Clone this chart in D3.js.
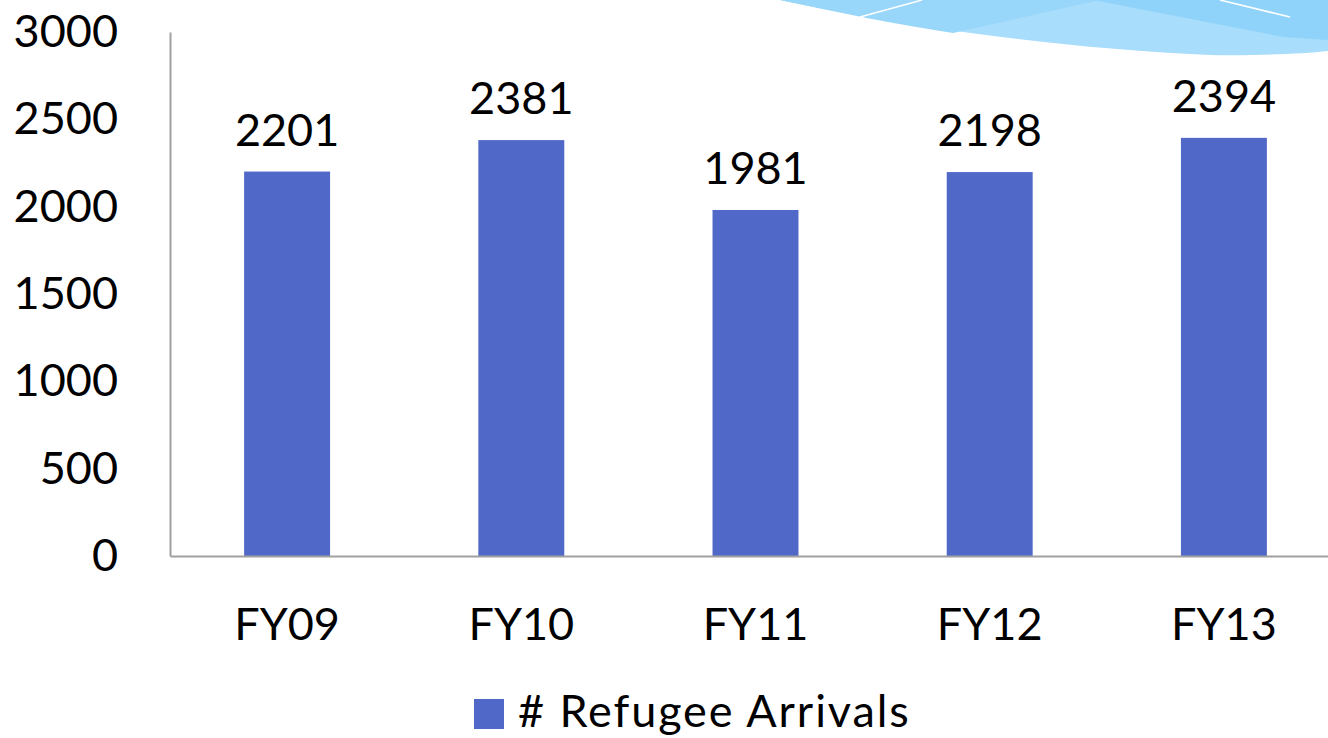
<!DOCTYPE html>
<html>
<head>
<meta charset="utf-8">
<script src="https://cdnjs.cloudflare.com/ajax/libs/d3/7.8.5/d3.min.js"></script>
<style>
  html, body { margin: 0; padding: 0; background: #fff; }
  svg { display: block; font-family: Lato, "Open Sans", sans-serif; }
</style>
</head>
<body>
<div class="draw"></div>
<script>
var categories = ['FY09', 'FY10', 'FY11', 'FY12', 'FY13'];
var arrivals = [2201, 2381, 1981, 2198, 2394];
var yTicks = [0, 500, 1000, 1500, 2000, 2500, 3000];
var seriesName = '# Refugee Arrivals';

var W = 1328, H = 738;
var svg = d3.select('.draw').append('svg')
  .attr('width', W)
  .attr('height', H)
  .attr('viewBox', [0, 0, W, H].join(' '));

// background swoosh, top right
var deco = svg.append('g');
deco.append('path')
  .attr('d', 'M780,0 C900,25 1050,48 1210,55 C1250,56 1300,54 1328,51 L1328,0 Z')
  .attr('fill', '#a8ddfb');
deco.append('path')
  .attr('d', 'M780,0 C840,13 900,25 953,33 L1100,0 Z')
  .attr('fill', '#98d6fa');
deco.append('path')
  .attr('d', 'M1093,0 L1283,37 L1328,40 L1328,0 Z')
  .attr('fill', '#90d3fa');
deco.append('path')
  .attr('d', 'M860,17 L922,0 M1220,0 L1290,17')
  .attr('stroke', '#fff').attr('stroke-width', 1.5).attr('fill', 'none');

var x = d3.scaleBand()
  .domain(categories)
  .range([170, 1341])
  .paddingInner(0.633)
  .paddingOuter(0.3165);

var y = d3.scaleLinear()
  .domain([0, 3000])
  .range([556, 32]);

// bars
svg.append('g').selectAll('rect')
  .data(arrivals)
  .enter().append('rect')
  .attr('x', function(d, i) { return x(categories[i]); })
  .attr('y', function(d) { return y(d); })
  .attr('width', x.bandwidth())
  .attr('height', function(d) { return y(0) - y(d); })
  .attr('fill', '#5068c8');

// value labels
svg.append('g').selectAll('text')
  .data(arrivals)
  .enter().append('text')
  .attr('x', function(d, i) { return x(categories[i]) + x.bandwidth() / 2; })
  .attr('y', function(d) { return y(d) - 26; })
  .attr('text-anchor', 'middle')
  .attr('font-size', 45)
  .attr('fill', '#000')
  .text(function(d) { return d; });

// y axis
var yAxis = svg.append('g')
  .attr('transform', 'translate(170,0)')
  .call(d3.axisLeft(y).tickValues(yTicks).tickFormat(d3.format('d')).tickSize(0).tickPadding(52));
yAxis.select('.domain').attr('stroke', '#a0a0a0').attr('stroke-width', 2);
yAxis.selectAll('text')
  .attr('font-size', 45)
  .attr('font-family', 'Lato, "Open Sans", sans-serif')
  .attr('fill', '#000');

// x axis
var xAxis = svg.append('g')
  .attr('transform', 'translate(0,556)')
  .call(d3.axisBottom(x).tickSize(0).tickPadding(52));
xAxis.select('.domain').attr('stroke', '#a0a0a0').attr('stroke-width', 2);
xAxis.selectAll('text')
  .attr('font-size', 45)
  .attr('font-family', 'Lato, "Open Sans", sans-serif')
  .attr('fill', '#000');

// legend
var legend = svg.append('g').attr('transform', 'translate(474,699)');
legend.append('rect').attr('width', 30).attr('height', 30).attr('fill', '#5068c8');
legend.append('text')
  .attr('x', 44)
  .attr('y', 28)
  .attr('font-size', 45)
  .attr('letter-spacing', 1.9)
  .attr('fill', '#000')
  .text(seriesName);
</script>
</body>
</html>
